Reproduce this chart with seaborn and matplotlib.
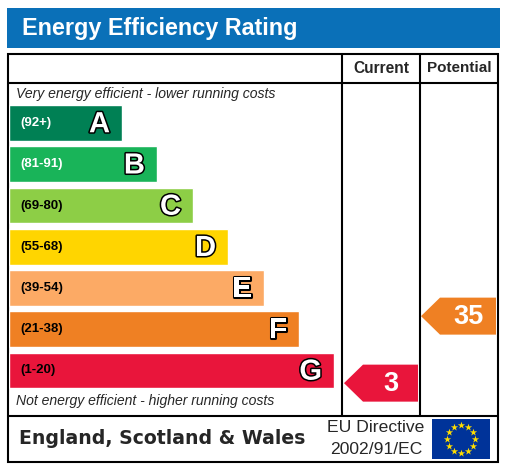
import numpy as np
import pandas as pd
import matplotlib
matplotlib.use("Agg")
import matplotlib.pyplot as plt
import matplotlib.patheffects as pe
from matplotlib.patches import Rectangle, Polygon
import seaborn as sns

# band data
bands = ['A', 'B', 'C', 'D', 'E', 'F', 'G']
band_ranges = ['(92+)', '(81-91)', '(69-80)', '(55-68)', '(39-54)', '(21-38)', '(1-20)']
band_low = [92, 81, 69, 55, 39, 21, 1]
band_high = [100, 91, 80, 68, 54, 38, 20]
bar_lengths = [113, 148, 184, 219, 255, 290, 325]
band_colors = ['#008054', '#19b459', '#8dce46', '#ffd500', '#fcaa65', '#ef8023', '#e9153b']
range_text_colors = ['white', 'white', 'black', 'black', 'black', 'black', 'black']

current_rating = 3
potential_rating = 35

df = pd.DataFrame({'band': bands, 'length': bar_lengths})

sns.set_style("white")
plt.rcParams['font.family'] = ['Liberation Sans', 'DejaVu Sans']

W, H = 509, 467
fig = plt.figure(figsize=(W / 100, H / 100), dpi=100)
ax = fig.add_axes([0, 0, 1, 1])
ax.set_xlim(0, W)
ax.set_ylim(H, 0)
ax.axis('off')

# bars axes: categories -0.5..6.5 span pixel rows 102.4..391.1, x starts at pixel 9
bar_top, bar_bot, bar_left = 102.4, 391.1, 9
axb = fig.add_axes([bar_left / W, (H - bar_bot) / H, (W - bar_left) / W, (bar_bot - bar_top) / H])
sns.barplot(data=df, x='length', y='band', hue='band', palette=band_colors,
            width=0.87, saturation=1, legend=False, ax=axb)
axb.set_xlim(0, W - bar_left)
axb.set_ylim(6.5, -0.5)
axb.axis('off')

step = (bar_bot - bar_top) / 7


def cat_to_px(c):
    return bar_top + (c + 0.5) * step


for i, b in enumerate(bands):
    axb.text(11, i, band_ranges[i], color=range_text_colors[i], fontsize=9.5,
             fontweight='bold', va='center', ha='left')
    t = axb.text(bar_lengths[i] - 12, i + 0.03, b, color='white', fontsize=21,
                 fontweight='bold', va='center', ha='right')
    t.set_path_effects([pe.withStroke(linewidth=2.2, foreground='black')])

# header
ax.add_patch(Rectangle((7, 8), 493, 40, color='#0a70b8', lw=0))
ax.text(22, 29, 'Energy Efficiency Rating', color='white', fontsize=16.8,
        fontweight='bold', va='center', ha='left')

# table lines
lw = 1.5
ax.add_patch(Rectangle((8, 53.5), 490.5, 408.5, fill=False, ec='black', lw=lw))
ax.plot([8, 498.5], [82.5, 82.5], color='black', lw=lw)
ax.plot([8, 498.5], [415.5, 415.5], color='black', lw=lw)
ax.plot([342.5, 342.5], [53.5, 415.5], color='black', lw=lw)
ax.plot([420.5, 420.5], [53.5, 415.5], color='black', lw=lw)

ax.text(381.5, 68.5, 'Current', fontsize=11.2, fontweight='bold', ha='center', va='center')
ax.text(459.5, 68.5, 'Potential', fontsize=11, fontweight='bold', ha='center', va='center')

ax.text(16, 94, 'Very energy efficient - lower running costs', fontsize=10.1,
        style='italic', ha='left', va='center')
ax.text(16, 401, 'Not energy efficient - higher running costs', fontsize=10.1,
        style='italic', ha='left', va='center')


# rating arrows
def band_index(r):
    for i in range(len(bands)):
        if band_low[i] <= r <= band_high[i]:
            return i
    return len(bands) - 1


def arrow(rating, x_tip, x_right):
    i = band_index(rating)
    frac = (rating - band_low[i]) / (band_high[i] - band_low[i])
    yc = cat_to_px(i + 0.435 - frac * 0.87) - 1.5
    h2 = 18.5
    pts = [(x_tip, yc), (x_tip + 19, yc - h2), (x_right, yc - h2),
           (x_right, yc + h2), (x_tip + 19, yc + h2)]
    ax.add_patch(Polygon(pts, closed=True, color=band_colors[i], lw=0))
    ax.text((x_tip + 19 + x_right) / 2, yc + 1, str(rating), color='white', fontsize=19.5,
            fontweight='bold', ha='center', va='center')


arrow(current_rating, 344, 418)
arrow(potential_rating, 421, 496)

# footer
ax.text(19, 438, 'England, Scotland & Wales', fontsize=13.6, fontweight='bold',
        family='DejaVu Sans', ha='left', va='center')
ax.text(376, 428, 'EU Directive', fontsize=12.6, ha='center', va='center')
ax.text(376, 449.5, '2002/91/EC', fontsize=12.6, ha='center', va='center')

ax.add_patch(Rectangle((432, 419), 58, 40, color='#003399', lw=0))
ang = np.arange(12) * np.pi / 6
ax.scatter(461 + 14 * np.cos(ang), 439 + 14 * np.sin(ang), marker='*', s=30,
           color='#ffdd00', linewidths=0, zorder=5)

fig.savefig('out.png', dpi=100)
